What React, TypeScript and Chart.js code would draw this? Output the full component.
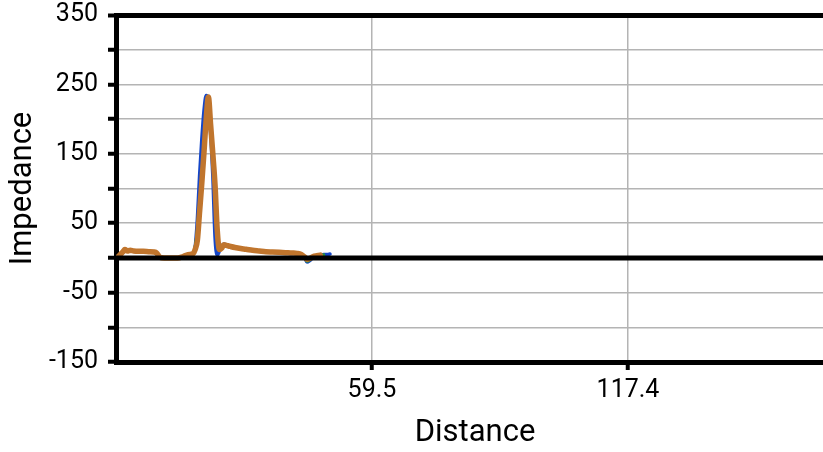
import React, { useEffect, useRef } from 'react';
import { Chart, registerables } from 'chart.js';

Chart.register(...registerables);

// Distance samples (shared by the three traces)
const distance = [
  2.0, 2.6, 3.2, 3.6, 4.2, 4.8, 5.6, 6.6, 7.8, 9.0, 10.2, 10.8, 11.5, 12.5, 14.0,
  15.5, 16.8, 17.6, 18.4, 19.0, 19.5, 20.0, 20.5, 21.0, 21.5, 22.0, 22.5, 23.0,
  23.5, 24.0, 24.5, 25.0, 25.5, 26.0, 26.6, 27.5, 28.5, 29.8, 31.0, 32.5, 34.0,
  35.5, 37.0, 38.5, 40.0, 41.5, 42.5, 43.5, 44.3, 44.8, 45.4, 46.2, 47.0, 47.8,
  48.6, 49.4, 50.0,
];

const impedanceBlue = [
  0, 4, 8, 11, 10, 10, 9.5, 9, 9, 8.5, 8, 6, 1, 0, 0,
  0, 2, 3, 4, 6, 15, 55, 118, 170, 212, 234, 228, 180,
  118, 30, 4, 10, 17, 20, 18, 16, 14.5, 13, 12, 10.5, 9.5,
  8.5, 8, 7.5, 7, 6.5, 6, 4, 0, -6, -4, 1, 3, 4,
  5, 5, 5.5,
];

const impedanceGreen = [
  1, 5, 9, 12, 10, 11, 10, 9.5, 9.5, 9, 8.5, 7, 1, 0, 0,
  0, 2, 4, 5, 6, 16, 40, 78, 110, 158, 205, 230, 196,
  145, 100, 38, 11, 14, 19, 18, 16.5, 15, 13.5, 12.5, 11, 10,
  9, 8.5, 8, 7.5, 7, 6.5, 4, 0, -5, -3, 1, 3, 4,
  4.5, null, null,
];

const impedanceOrange = [
  1, 5, 9, 12, 10, 11, 10, 9.5, 9.5, 9, 8.5, 7, 1, 0, 0,
  0, 2, 4, 5, 6, 12, 25, 66, 107, 152, 200, 232, 192,
  150, 105, 40, 12, 14, 19, 18, 16.5, 15, 13.5, 12.5, 11, 10,
  9, 8.5, 8, 7.5, 7, 6.5, 5, 1, -2, -1, 2, 3, 4,
  null, null, null,
];

const xTickValues = [1.6, 59.5, 117.4];
const xLabelValues = [59.5, 117.4];
const yLabelValues = [-150, -50, 50, 150, 250, 350];

const FONT = 'Roboto, "Noto Sans", sans-serif';

export default function App() {
  const ref = useRef<HTMLCanvasElement>(null);

  useEffect(() => {
    if (!ref.current) return;
    const toPts = (ys: (number | null)[]) => distance.map((x, i) => ({ x, y: ys[i] }));

    const zeroLine = {
      id: 'zeroLine',
      afterDatasetsDraw(chart: any) {
        const { ctx, chartArea, scales } = chart;
        const y = scales.y.getPixelForValue(0);
        ctx.save();
        ctx.strokeStyle = '#000';
        ctx.lineWidth = 5;
        ctx.beginPath();
        ctx.moveTo(chartArea.left, y);
        ctx.lineTo(chartArea.right, y);
        ctx.stroke();
        ctx.restore();
      },
    };

    const common = {
      pointRadius: 0,
      cubicInterpolationMode: 'monotone' as const,
      borderJoinStyle: 'round' as const,
      borderCapStyle: 'round' as const,
    };

    const chart = new Chart(ref.current, {
      type: 'line',
      data: {
        datasets: [
          {
            label: 'Trace 3',
            data: toPts(impedanceOrange) as any,
            borderColor: 'rgb(192,117,45)',
            borderWidth: 5.5,
            order: 1,
            ...common,
          },
          {
            label: 'Trace 2',
            data: toPts(impedanceGreen) as any,
            borderColor: 'rgb(40,150,60)',
            borderWidth: 3,
            order: 2,
            ...common,
          },
          {
            label: 'Trace 1',
            data: toPts(impedanceBlue) as any,
            borderColor: 'rgb(20,70,200)',
            borderWidth: 3.5,
            order: 3,
            ...common,
          },
        ],
      },
      options: {
        animation: false,
        responsive: false,
        events: [],
        plugins: { legend: { display: false }, tooltip: { enabled: false } },
        layout: { padding: { left: 5, top: 0, right: 0, bottom: 0 } },
        scales: {
          x: {
            type: 'linear',
            min: 1.6,
            max: 164,
            afterBuildTicks: (s: any) => {
              s.ticks = xTickValues.map((v) => ({ value: v }));
            },
            afterFit: (s: any) => {
              s.height = 90;
            },
            ticks: {
              autoSkip: false,
              maxRotation: 0,
              padding: 6,
              color: '#000',
              font: { family: FONT, size: 25 },
              callback: (v: any) => (xLabelValues.includes(v) ? String(v) : ''),
            },
            grid: {
              color: (c: any) => (c.tick && xLabelValues.includes(c.tick.value) ? '#b4b4b4' : 'rgba(0,0,0,0)'),
              lineWidth: 1.5,
              tickColor: (c: any) => (c.tick && xLabelValues.includes(c.tick.value) ? '#000' : 'rgba(0,0,0,0)'),
              tickWidth: 4,
              tickLength: 8,
            },
            border: { color: '#000', width: 5 },
            title: {
              display: true,
              text: 'Distance',
              color: '#000',
              font: { family: FONT, size: 31 },
              padding: { top: 0, bottom: 0 },
            },
          },
          y: {
            type: 'linear',
            min: -150,
            max: 350,
            afterFit: (s: any) => {
              s.width = 111;
            },
            ticks: {
              stepSize: 50,
              padding: 10,
              color: '#000',
              font: { family: FONT, size: 25 },
              callback: (v: any) => (yLabelValues.includes(v) ? String(v) : ''),
            },
            grid: {
              color: (c: any) => {
                const v = c.tick ? c.tick.value : null;
                if (v === 350) return '#000';
                if (v === 0 || v === -150) return 'rgba(0,0,0,0)';
                return '#b4b4b4';
              },
              lineWidth: (c: any) => (c.tick && c.tick.value === 350 ? 5 : 1.5),
              tickColor: '#000',
              tickWidth: 4,
              tickLength: 8,
            },
            border: { color: '#000', width: 5 },
            title: {
              display: true,
              text: 'Impedance',
              color: '#000',
              font: { family: FONT, size: 31 },
              padding: { top: 0, bottom: 0 },
            },
          },
        },
      },
      plugins: [zeroLine],
    });
    return () => chart.destroy();
  }, []);

  return (
    <div
      style={{
        position: 'fixed',
        left: 0,
        top: 0,
        width: 823,
        height: 452,
        overflow: 'hidden',
        background: '#fff',
      }}
    >
      <canvas
        ref={ref}
        width={834}
        height={462}
        style={{ display: 'block', position: 'absolute', left: 0, top: -10 }}
      />
    </div>
  );
}
